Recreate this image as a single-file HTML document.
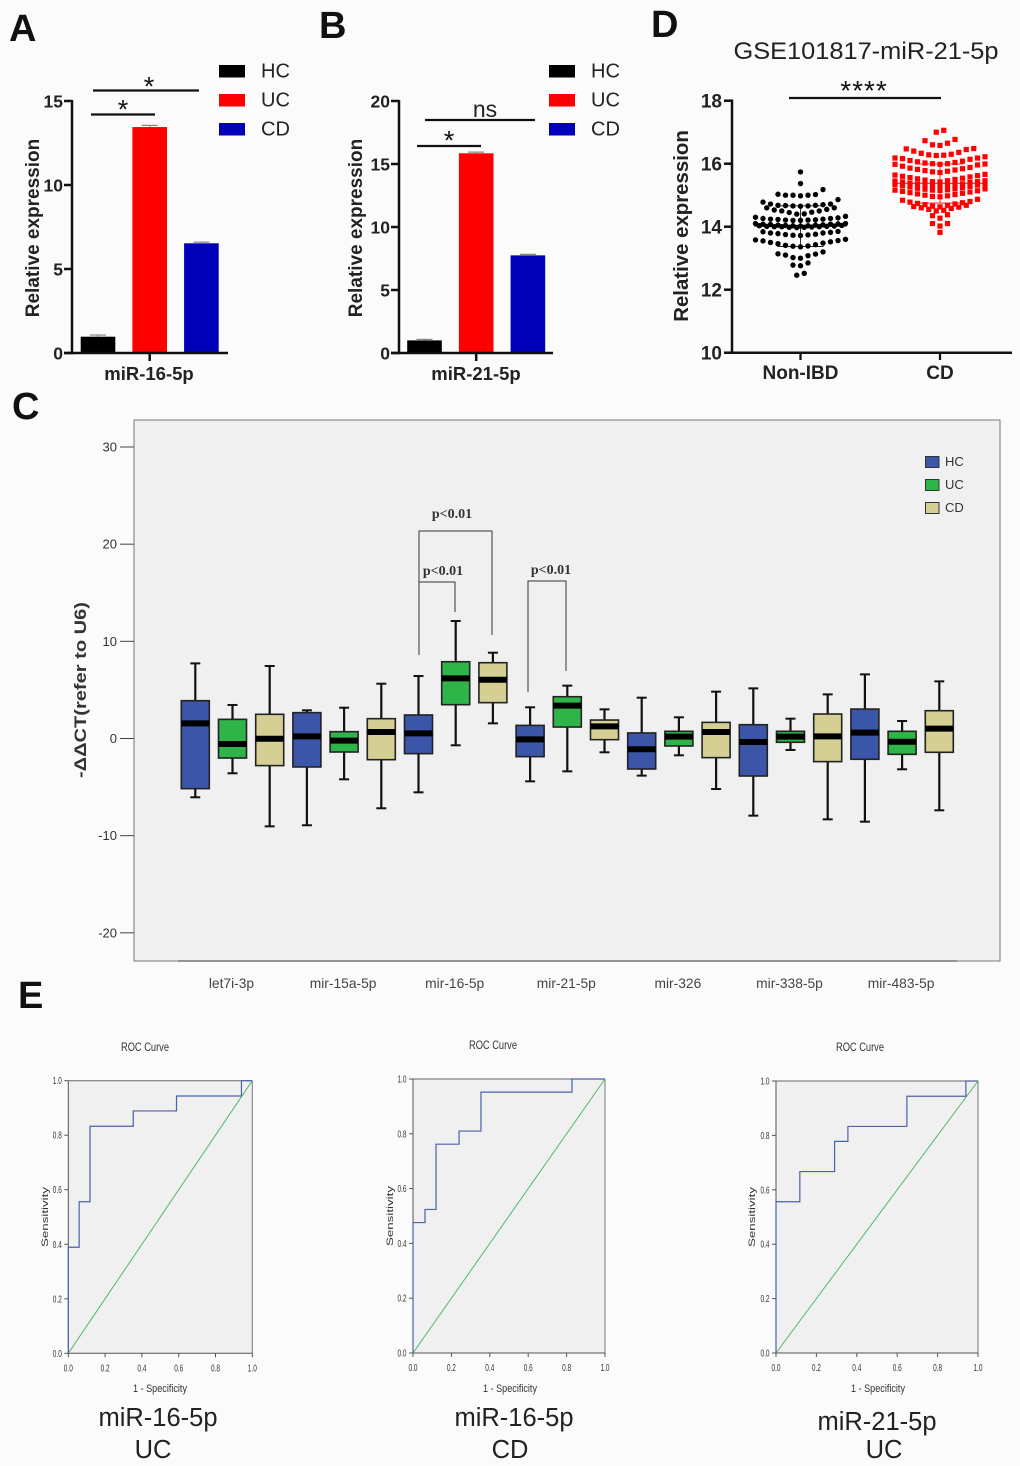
<!DOCTYPE html>
<html lang="en">
<head>
<meta charset="utf-8">
<title>miRNA expression figure</title>
<style>
html,body{margin:0;padding:0;background:#fbfbfb;}
svg{display:block;font-family:"Liberation Sans",Arial,sans-serif;}
</style>
</head>
<body>
<svg id="fig" xmlns="http://www.w3.org/2000/svg" width="1020" height="1466" viewBox="0 0 1020 1466">
<rect x="0" y="0" width="1020" height="1466" fill="#fbfbfb"/>

<text x="9" y="41" font-size="38" font-weight="700" fill="#111">A</text>
<text x="319" y="38" font-size="38" font-weight="700" fill="#111">B</text>
<text x="12" y="419" font-size="38" font-weight="700" fill="#111">C</text>
<text x="651" y="37" font-size="38" font-weight="700" fill="#111">D</text>
<text x="18" y="1008" font-size="38" font-weight="700" fill="#111">E</text>

<g id="panelA">
  <text transform="translate(39,228) rotate(-90)" text-anchor="middle" font-size="19" font-weight="700" fill="#222">Relative expression</text>
  <text x="149" y="380" text-anchor="middle" font-size="18.5" font-weight="700" fill="#222">miR-16-5p</text>
  <line x1="93" y1="90.5" x2="199" y2="90.5" stroke="#111" stroke-width="2.2"/>
  <text x="149" y="95.5" text-anchor="middle" font-size="27" fill="#111">*</text>
  <line x1="91" y1="114.5" x2="155" y2="114.5" stroke="#111" stroke-width="2.2"/>
  <text x="123" y="118.5" text-anchor="middle" font-size="27" fill="#111">*</text>
</g>

<g id="panelB">
  <text transform="translate(362,228) rotate(-90)" text-anchor="middle" font-size="19" font-weight="700" fill="#222">Relative expression</text>
  <text x="476" y="380" text-anchor="middle" font-size="18.5" font-weight="700" fill="#222">miR-21-5p</text>
  <line x1="425" y1="120" x2="535" y2="120" stroke="#111" stroke-width="2.2"/>
  <text x="485" y="117" text-anchor="middle" font-size="23" fill="#222">ns</text>
  <line x1="417" y1="146" x2="481" y2="146" stroke="#111" stroke-width="2.2"/>
  <text x="449" y="149.5" text-anchor="middle" font-size="27" fill="#111">*</text>
</g>

<g id="panelD">
  <text x="866" y="59" text-anchor="middle" font-size="24" fill="#222" textLength="265" lengthAdjust="spacingAndGlyphs">GSE101817-miR-21-5p</text>
  <text transform="translate(688,226) rotate(-90)" text-anchor="middle" font-size="20.4" font-weight="700" fill="#222">Relative expression</text>
  <line x1="789" y1="98" x2="941" y2="98" stroke="#111" stroke-width="2.2"/>
  <text x="864" y="100" text-anchor="middle" font-size="28" letter-spacing="1" fill="#111">****</text>
</g>

<g id="panelC">
  <rect x="134" y="420" width="866" height="541" fill="#f0f0f0" stroke="#777" stroke-width="1"/>
  <line x1="178" y1="961" x2="957" y2="961" stroke="#333" stroke-width="1"/>
  <text transform="translate(86,690) rotate(-90)" text-anchor="middle" font-size="16.5" font-weight="700" fill="#333" textLength="176" lengthAdjust="spacingAndGlyphs">-ΔΔCT(refer to U6)</text>
  <g fill="none" stroke="#333" stroke-width="1">
    <polyline points="419,655 419,531 492,531 492,635"/>
  </g>
  <g fill="none" stroke="#333" stroke-width="1">
    <polyline points="419,655 419,582 455,582 455,612"/>
  </g>
  <g fill="none" stroke="#333" stroke-width="1">
    <polyline points="528,692 528,581 566,581 566,671"/>
  </g>
  <text x="452" y="518" text-anchor="middle" font-family="'Liberation Serif',serif" font-size="14" font-weight="700" fill="#333">p&lt;0.01</text>
  <text x="443" y="575" text-anchor="middle" font-family="'Liberation Serif',serif" font-size="14" font-weight="700" fill="#333">p&lt;0.01</text>
  <text x="551" y="574" text-anchor="middle" font-family="'Liberation Serif',serif" font-size="14" font-weight="700" fill="#333">p&lt;0.01</text>
</g>

<g id="panelE">
  <text x="158" y="1426" text-anchor="middle" font-size="25.5" fill="#222">miR-16-5p</text>
  <text x="153" y="1458" text-anchor="middle" font-size="25.5" fill="#222">UC</text>
  <text x="514" y="1426" text-anchor="middle" font-size="25.5" fill="#222">miR-16-5p</text>
  <text x="510" y="1458" text-anchor="middle" font-size="25.5" fill="#222">CD</text>
  <text x="877" y="1430" text-anchor="middle" font-size="25.5" fill="#222">miR-21-5p</text>
  <text x="884" y="1458" text-anchor="middle" font-size="25.5" fill="#222">UC</text>
</g>
</svg>

<script>
// ---------- Panel A / B data ----------
const barGroups = ['HC', 'UC', 'CD'];
const barColors = ['#000000', '#ff0000', '#0000b8'];
const panelAValues = [0.97, 13.45, 6.53];
const panelAErrors = [0.07, 0.07, 0.04];
const panelATicks = [0, 5, 10, 15];
const panelBValues = [1.0, 15.85, 7.75];
const panelBErrors = [0.04, 0.05, 0.04];
const panelBTicks = [0, 5, 10, 15, 20];

// ---------- Panel D data (each inner array is one swarm row) ----------
const panelDTicks = [10, 12, 14, 16, 18];
const panelDGroups = ['Non-IBD', 'CD'];
const nonIbdRows = [
  [15.74],
  [15.37],
  [14.98, 15.0, 15.0, 15.0, 15.02, 15.03, 15.18],
  [14.65, 14.66, 14.66, 14.67, 14.68, 14.68, 14.7, 14.72, 14.72, 14.78, 14.86],
  [14.4, 14.41, 14.45, 14.46, 14.5, 14.5, 14.53, 14.55, 14.6, 14.6],
  [14.2, 14.2, 14.21, 14.21, 14.22, 14.23, 14.24, 14.24, 14.26, 14.26, 14.28, 14.3, 14.33],
  [14.02, 14.03, 14.03, 14.04, 14.05, 14.05, 14.06, 14.07, 14.08, 14.08, 14.09, 14.1, 14.1],
  [13.97, 13.98, 13.98, 13.99, 14.0, 14.0, 14.0, 14.01, 14.01, 14.02, 14.03, 14.04],
  [13.72, 13.73, 13.74, 13.75, 13.76, 13.78, 13.8, 13.8, 13.82, 13.84, 13.85],
  [13.36, 13.38, 13.39, 13.41, 13.43, 13.46, 13.48, 13.5, 13.52, 13.55, 13.56, 13.58, 13.6],
  [13.0, 13.02, 13.08, 13.1, 13.13, 13.14, 13.2],
  [12.76, 12.78, 12.85],
  [12.46, 12.52]
];
const cdRows = [
  [17.0, 17.06],
  [16.58, 16.6, 16.65, 16.73, 16.77],
  [16.26, 16.27, 16.28, 16.3, 16.33, 16.36, 16.4, 16.45, 16.47, 16.48],
  [15.98, 16.0, 16.0, 16.02, 16.04, 16.06, 16.08, 16.1, 16.14, 16.16, 16.18, 16.18, 16.22],
  [15.72, 15.74, 15.76, 15.78, 15.8, 15.82, 15.84, 15.86, 15.88, 15.92, 15.96, 15.98, 15.99],
  [15.42, 15.43, 15.46, 15.48, 15.5, 15.52, 15.54, 15.56, 15.58, 15.6, 15.62, 15.64, 15.66],
  [15.28, 15.29, 15.3, 15.32, 15.34, 15.35, 15.36, 15.38, 15.4, 15.42, 15.43, 15.45, 15.46],
  [15.15, 15.16, 15.17, 15.19, 15.2, 15.22, 15.24, 15.26, 15.28, 15.3, 15.32, 15.34, 15.36],
  [14.95, 14.96, 14.98, 15.0, 15.02, 15.04, 15.06, 15.08, 15.1, 15.12, 15.14, 15.16, 15.2],
  [14.63, 14.65, 14.68, 14.7, 14.72, 14.74, 14.76, 14.78, 14.8, 14.84, 14.87],
  [14.5, 14.52, 14.55, 14.58, 14.6, 14.62, 14.64, 14.68],
  [14.27, 14.35, 14.38],
  [14.02, 14.1, 14.1],
  [13.82]
];
const groupMeans = [14.03, 15.38];
const groupSdHigh = [14.66, 15.99];
const groupSdLow = [13.37, 14.75];

// ---------- Panel C data ----------
const boxCategories = ['let7i-3p', 'mir-15a-5p', 'mir-16-5p', 'mir-21-5p', 'mir-326', 'mir-338-5p', 'mir-483-5p'];
const boxGroups = ['HC', 'UC', 'CD'];
const boxColors = ['#3b55a8', '#2fb44a', '#d6cf94'];
const boxTicks = [-20, -10, 0, 10, 20, 30];
const whiskerHigh = [7.73, 3.45, 7.46, 2.90, 3.17, 5.64, 6.43, 12.09, 8.83, 3.21, 5.44, 3.00, 4.20, 2.18, 4.82, 5.16, 2.04, 4.54, 6.60, 1.80, 5.88];
const q3Values = [3.89, 1.97, 2.49, 2.66, 0.70, 2.04, 2.42, 7.90, 7.80, 1.35, 4.30, 1.90, 0.57, 0.74, 1.66, 1.42, 0.74, 2.52, 3.03, 0.74, 2.86];
const medianValues = [1.56, -0.57, -0.02, 0.22, -0.22, 0.67, 0.53, 6.19, 6.05, -0.09, 3.38, 1.25, -1.11, 0.19, 0.67, -0.36, 0.19, 0.22, 0.60, -0.33, 1.01];
const q1Values = [-5.16, -2.01, -2.79, -2.93, -1.39, -2.18, -1.56, 3.48, 3.69, -1.87, 1.18, -0.12, -3.14, -0.77, -1.97, -3.86, -0.39, -2.38, -2.14, -1.63, -1.42];
const whiskerLow = [-6.05, -3.58, -9.04, -8.93, -4.20, -7.18, -5.54, -0.70, 1.56, -4.41, -3.38, -1.42, -3.82, -1.73, -5.20, -7.94, -1.18, -8.32, -8.56, -3.17, -7.39];

// ---------- Panel E data ----------
const rocTicks = [0, 0.2, 0.4, 0.6, 0.8, 1];
const roc1Fpr = [0, 0.059, 0.118, 0.353, 0.588, 0.941, 1];
const roc1Tpr = [0.389, 0.556, 0.833, 0.889, 0.944, 1, 1];
const roc2Fpr = [0, 0.0625, 0.12, 0.24, 0.354, 0.828, 1];
const roc2Tpr = [0.476, 0.524, 0.762, 0.81, 0.952, 1, 1];
const roc3Fpr = [0, 0.118, 0.29, 0.356, 0.648, 0.94, 1];
const roc3Tpr = [0.556, 0.667, 0.778, 0.833, 0.944, 1, 1];

const NS = 'http://www.w3.org/2000/svg';
function mk(parent, tag, attrs, text) {
  const el = document.createElementNS(NS, tag);
  for (const k in attrs) el.setAttribute(k, attrs[k]);
  if (text !== undefined) el.textContent = text;
  parent.appendChild(el);
  return el;
}
const linear = (d0, d1, r0, r1) => v => r0 + (v - d0) * (r1 - r0) / (d1 - d0);

// ---------- Bar panels ----------
function drawBarPanel(id, prefix, values, errors, ticks, axisX, firstBar, xEnd, legendX, tickMaxVal) {
  const g = document.getElementById(id);
  const y = linear(0, tickMaxVal, 353, 101);
  const barX = i => firstBar + i * 51.7;
  values.forEach((v, i) => {
    const bar = mk(g, 'rect', {x: barX(i) - 17.3, y: y(v), width: 34.6, height: 353 - y(v), fill: barColors[i]});
    
    
    const stem = mk(g, 'line', {x1: barX(i), x2: barX(i), y1: y(v), y2: y(v + errors[i]), stroke: '#777', 'stroke-width': 1});
    
    
    const cap = mk(g, 'line', {x1: barX(i) - 8, x2: barX(i) + 8, y1: y(v + errors[i]) - 0.5, y2: y(v + errors[i]) - 0.5, stroke: '#888', 'stroke-width': 1.2});
    
    
  });
  const yAxis = mk(g, 'line', {x1: axisX, x2: axisX, y1: 100, y2: 354.2, stroke: '#111', 'stroke-width': 2.5});
  
  
  const xAxis = mk(g, 'line', {x1: axisX - 8, x2: xEnd, y1: 353, y2: 353, stroke: '#111', 'stroke-width': 2.5});
  
  
  const xTick = mk(g, 'line', {x1: barX(1), x2: barX(1), y1: 353, y2: 361, stroke: '#111', 'stroke-width': 2.5});
  
  
  ticks.forEach(t => {
    const tick = mk(g, 'line', {x1: axisX - 8, x2: axisX, y1: y(t), y2: y(t), stroke: '#111', 'stroke-width': 2.5});
    
    
    const label = mk(g, 'text', {x: axisX - 9, y: y(t) + 6.5, 'text-anchor': 'end', 'font-size': 17.5, 'font-weight': 700, fill: '#222'}, String(t));
    
    
  });
  barGroups.forEach((name, i) => {
    const sw = mk(g, 'rect', {x: legendX, y: 65 + i * 29, width: 26, height: 12.5, fill: barColors[i]});
    
    
    const lt = mk(g, 'text', {x: legendX + 42, y: 77.5 + i * 29, 'font-size': 20, fill: '#222'}, name);
    
    
  });
}
drawBarPanel('panelA', 'panel-a', panelAValues, panelAErrors, panelATicks, 72, 98, 228, 219, 15);
drawBarPanel('panelB', 'panel-b', panelBValues, panelBErrors, panelBTicks, 399, 424.5, 553, 549, 20);

// ---------- Panel D ----------
(function () {
  const g = document.getElementById('panelD');
  const y = linear(10, 18, 352.7, 100.7);
  const centers = [800.5, 940];
  const colors = ['#000000', '#ff0000'];
  const step = 7.5;
  function drawSwarm(rows, idx, square) {
    rows.forEach(row => {
      const sorted = row.slice().sort((a, b) => a - b);
      const odd = sorted.length % 2 === 1;
      sorted.forEach((v, i) => {
        let off;
        if (odd) {
          off = i === 0 ? 0 : (i % 2 === 1 ? -1 : 1) * Math.ceil(i / 2);
        } else {
          off = (i % 2 === 0 ? -1 : 1) * (Math.floor(i / 2) + 0.5);
        }
        const cx = centers[idx] + off * step;
        let pt;
        if (square) {
          pt = mk(g, 'rect', {x: cx - 2.6, y: y(v) - 2.6, width: 5.2, height: 5.2, fill: colors[idx]});
        } else {
          pt = mk(g, 'circle', {cx: cx, cy: y(v), r: 2.7, fill: colors[idx]});
        }
        
        
      });
    });
  }
  drawSwarm(nonIbdRows, 0, false);
  drawSwarm(cdRows, 1, true);
  panelDGroups.forEach((name, i) => {
    const key = name.toLowerCase();
    const stroke = colors[i];
    const mean = mk(g, 'line', {x1: centers[i] - 46, x2: centers[i] + 46, y1: y(groupMeans[i]), y2: y(groupMeans[i]), stroke: stroke, 'stroke-width': i === 0 ? 1.8 : 1});
    
    
    const sd = mk(g, 'line', {x1: centers[i], x2: centers[i], y1: y(groupSdHigh[i]), y2: y(groupSdLow[i]), stroke: stroke, 'stroke-width': 0.8});
    
    
    const capHi = mk(g, 'line', {x1: centers[i] - 23, x2: centers[i] + 23, y1: y(groupSdHigh[i]), y2: y(groupSdHigh[i]), stroke: stroke, 'stroke-width': 0.8});
    
    
    const capLo = mk(g, 'line', {x1: centers[i] - 23, x2: centers[i] + 23, y1: y(groupSdLow[i]), y2: y(groupSdLow[i]), stroke: stroke, 'stroke-width': 0.8});
    
    
    const tick = mk(g, 'line', {x1: centers[i], x2: centers[i], y1: 352.7, y2: 360, stroke: '#111', 'stroke-width': 2.3});
    
    
    const label = mk(g, 'text', {x: centers[i], y: 379, 'text-anchor': 'middle', 'font-size': 19, 'font-weight': 700, fill: '#222'}, name);
    
    
  });
  const yAxis = mk(g, 'line', {x1: 732, x2: 732, y1: 99.5, y2: 354, stroke: '#111', 'stroke-width': 2.5});
  
  
  const xAxis = mk(g, 'line', {x1: 724, x2: 1012, y1: 352.7, y2: 352.7, stroke: '#111', 'stroke-width': 2.5});
  
  
  panelDTicks.forEach(t => {
    const tick = mk(g, 'line', {x1: 724, x2: 732, y1: y(t), y2: y(t), stroke: '#111', 'stroke-width': 2.5});
    
    
    const label = mk(g, 'text', {x: 722, y: y(t) + 7, 'text-anchor': 'end', 'font-size': 19, 'font-weight': 700, fill: '#222'}, String(t));
    
    
  });
})();

// ---------- Panel C ----------
(function () {
  const g = document.getElementById('panelC');
  const y = linear(0, 30, 738.5, 447);
  const slotX = i => 195.3 + i * 37.2;
  const halfBox = 14;
  boxTicks.forEach(t => {
    const tick = mk(g, 'line', {x1: 120, x2: 134, y1: y(t), y2: y(t), stroke: '#444', 'stroke-width': 1});
    
    
    const label = mk(g, 'text', {x: 117, y: y(t) + 4.5, 'text-anchor': 'end', 'font-size': 13, fill: '#333'}, String(t));
    
    
  });
  boxCategories.forEach((name, c) => {
    const label = mk(g, 'text', {x: slotX(c * 3 + 1) - 1, y: 988, 'text-anchor': 'middle', 'font-size': 13.8, fill: '#444'}, name);
    
    
  });
  medianValues.forEach((m, i) => {
    const cat = boxCategories[Math.floor(i / 3)];
    const grp = boxGroups[i % 3].toLowerCase();
    const x = slotX(i);
    const whisker = mk(g, 'line', {x1: x, x2: x, y1: y(whiskerHigh[i]), y2: y(whiskerLow[i]), stroke: '#111', 'stroke-width': 2.2});
    
    
    const capHi = mk(g, 'line', {x1: x - 5, x2: x + 5, y1: y(whiskerHigh[i]), y2: y(whiskerHigh[i]), stroke: '#111', 'stroke-width': 2});
    
    
    const capLo = mk(g, 'line', {x1: x - 5, x2: x + 5, y1: y(whiskerLow[i]), y2: y(whiskerLow[i]), stroke: '#111', 'stroke-width': 2});
    
    
    const box = mk(g, 'rect', {x: x - halfBox, y: y(q3Values[i]), width: halfBox * 2, height: y(q1Values[i]) - y(q3Values[i]), fill: boxColors[i % 3], stroke: '#222', 'stroke-width': 1.6});
    
    
    const med = mk(g, 'line', {x1: x - halfBox, x2: x + halfBox, y1: y(m), y2: y(m), stroke: '#000', 'stroke-width': 6});
    
    
  });
  boxGroups.forEach((name, i) => {
    const sw = mk(g, 'rect', {x: 925.5, y: 456.5 + i * 23, width: 13.5, height: 11, fill: boxColors[i], stroke: '#333', 'stroke-width': 1});
    
    
    const lt = mk(g, 'text', {x: 945, y: 466 + i * 23, 'font-size': 13, fill: '#333'}, name);
    
    
  });
})();

// ---------- Panel E ----------
function drawRoc(idx, fpr, tpr, x0, x1, y0, y1, titleX, titleY, xLabelX, xLabelY, yLabelX) {
  const g = document.getElementById('panelE');
  const p = 'roc-' + idx + '-';
  const x = linear(0, 1, x0, x1);
  const y = linear(0, 1, y0, y1);
  const area = mk(g, 'rect', {x: x0, y: y1, width: x1 - x0, height: y0 - y1, fill: '#f0f0f0'});
  
  
  const frameTop = mk(g, 'line', {x1: x0, x2: x1, y1: y1, y2: y1, stroke: '#666', 'stroke-width': 1});
  
  
  const frameRight = mk(g, 'line', {x1: x1, x2: x1, y1: y1, y2: y0, stroke: '#777', 'stroke-width': 1});
  
  
  const axisX = mk(g, 'line', {x1: x0, x2: x1, y1: y0, y2: y0, stroke: '#555', 'stroke-width': 1});
  
  
  const axisY = mk(g, 'line', {x1: x0, x2: x0, y1: y1, y2: y0, stroke: '#555', 'stroke-width': 1});
  
  
  rocTicks.forEach(t => {
    const tx = mk(g, 'line', {x1: x(t), x2: x(t), y1: y0, y2: y0 + 4, stroke: '#555', 'stroke-width': 1});
    
    
    const ty = mk(g, 'line', {x1: x0 - 4, x2: x0, y1: y(t), y2: y(t), stroke: '#555', 'stroke-width': 1});
    
    
    const lx = mk(g, 'text', {x: x(t), y: y0 + 18, 'text-anchor': 'middle', 'font-size': 10, fill: '#333', textLength: 9, lengthAdjust: 'spacingAndGlyphs'}, t.toFixed(1));
    
    
    const ly = mk(g, 'text', {x: x0 - 11, y: y(t) + 3.5, 'text-anchor': 'middle', 'font-size': 10, fill: '#333', textLength: 9, lengthAdjust: 'spacingAndGlyphs'}, t.toFixed(1));
    
    
  });
  const diag = mk(g, 'line', {x1: x(0), y1: y(0), x2: x(1), y2: y(1), stroke: '#55b56f', 'stroke-width': 1});
  
  
  let pts = [[x(0), y(0)]];
  fpr.forEach((f, i) => {
    pts.push([x(f), pts[pts.length - 1][1]]);
    pts.push([x(f), y(tpr[i])]);
  });
  const curve = mk(g, 'polyline', {points: pts.map(q => q.join(',')).join(' '), fill: 'none', stroke: '#4a62a8', 'stroke-width': 1.2});
  
  
  const title = mk(g, 'text', {x: titleX, y: titleY, 'text-anchor': 'middle', 'font-size': 11.5, fill: '#333', textLength: 48, lengthAdjust: 'spacingAndGlyphs'}, 'ROC Curve');
  
  
  const xl = mk(g, 'text', {x: xLabelX, y: xLabelY, 'text-anchor': 'middle', 'font-size': 11, fill: '#333', textLength: 54, lengthAdjust: 'spacingAndGlyphs'}, '1 - Specificity');
  
  
  const yl = mk(g, 'text', {transform: 'translate(' + yLabelX + ',' + ((y0 + y1) / 2) + ') rotate(-90)', 'text-anchor': 'middle', 'font-size': 9.5, fill: '#333', textLength: 60, lengthAdjust: 'spacingAndGlyphs'}, 'Sensitivity');
  
  
}
drawRoc(1, roc1Fpr, roc1Tpr, 68.3, 252.3, 1353.3, 1080.7, 145, 1051, 160, 1392, 48);
drawRoc(2, roc2Fpr, roc2Tpr, 413, 605, 1353, 1079, 493, 1049, 510, 1392, 393);
drawRoc(3, roc3Fpr, roc3Tpr, 776, 978, 1353, 1081, 860, 1051, 878, 1392, 755);
</script>
</body>
</html>
